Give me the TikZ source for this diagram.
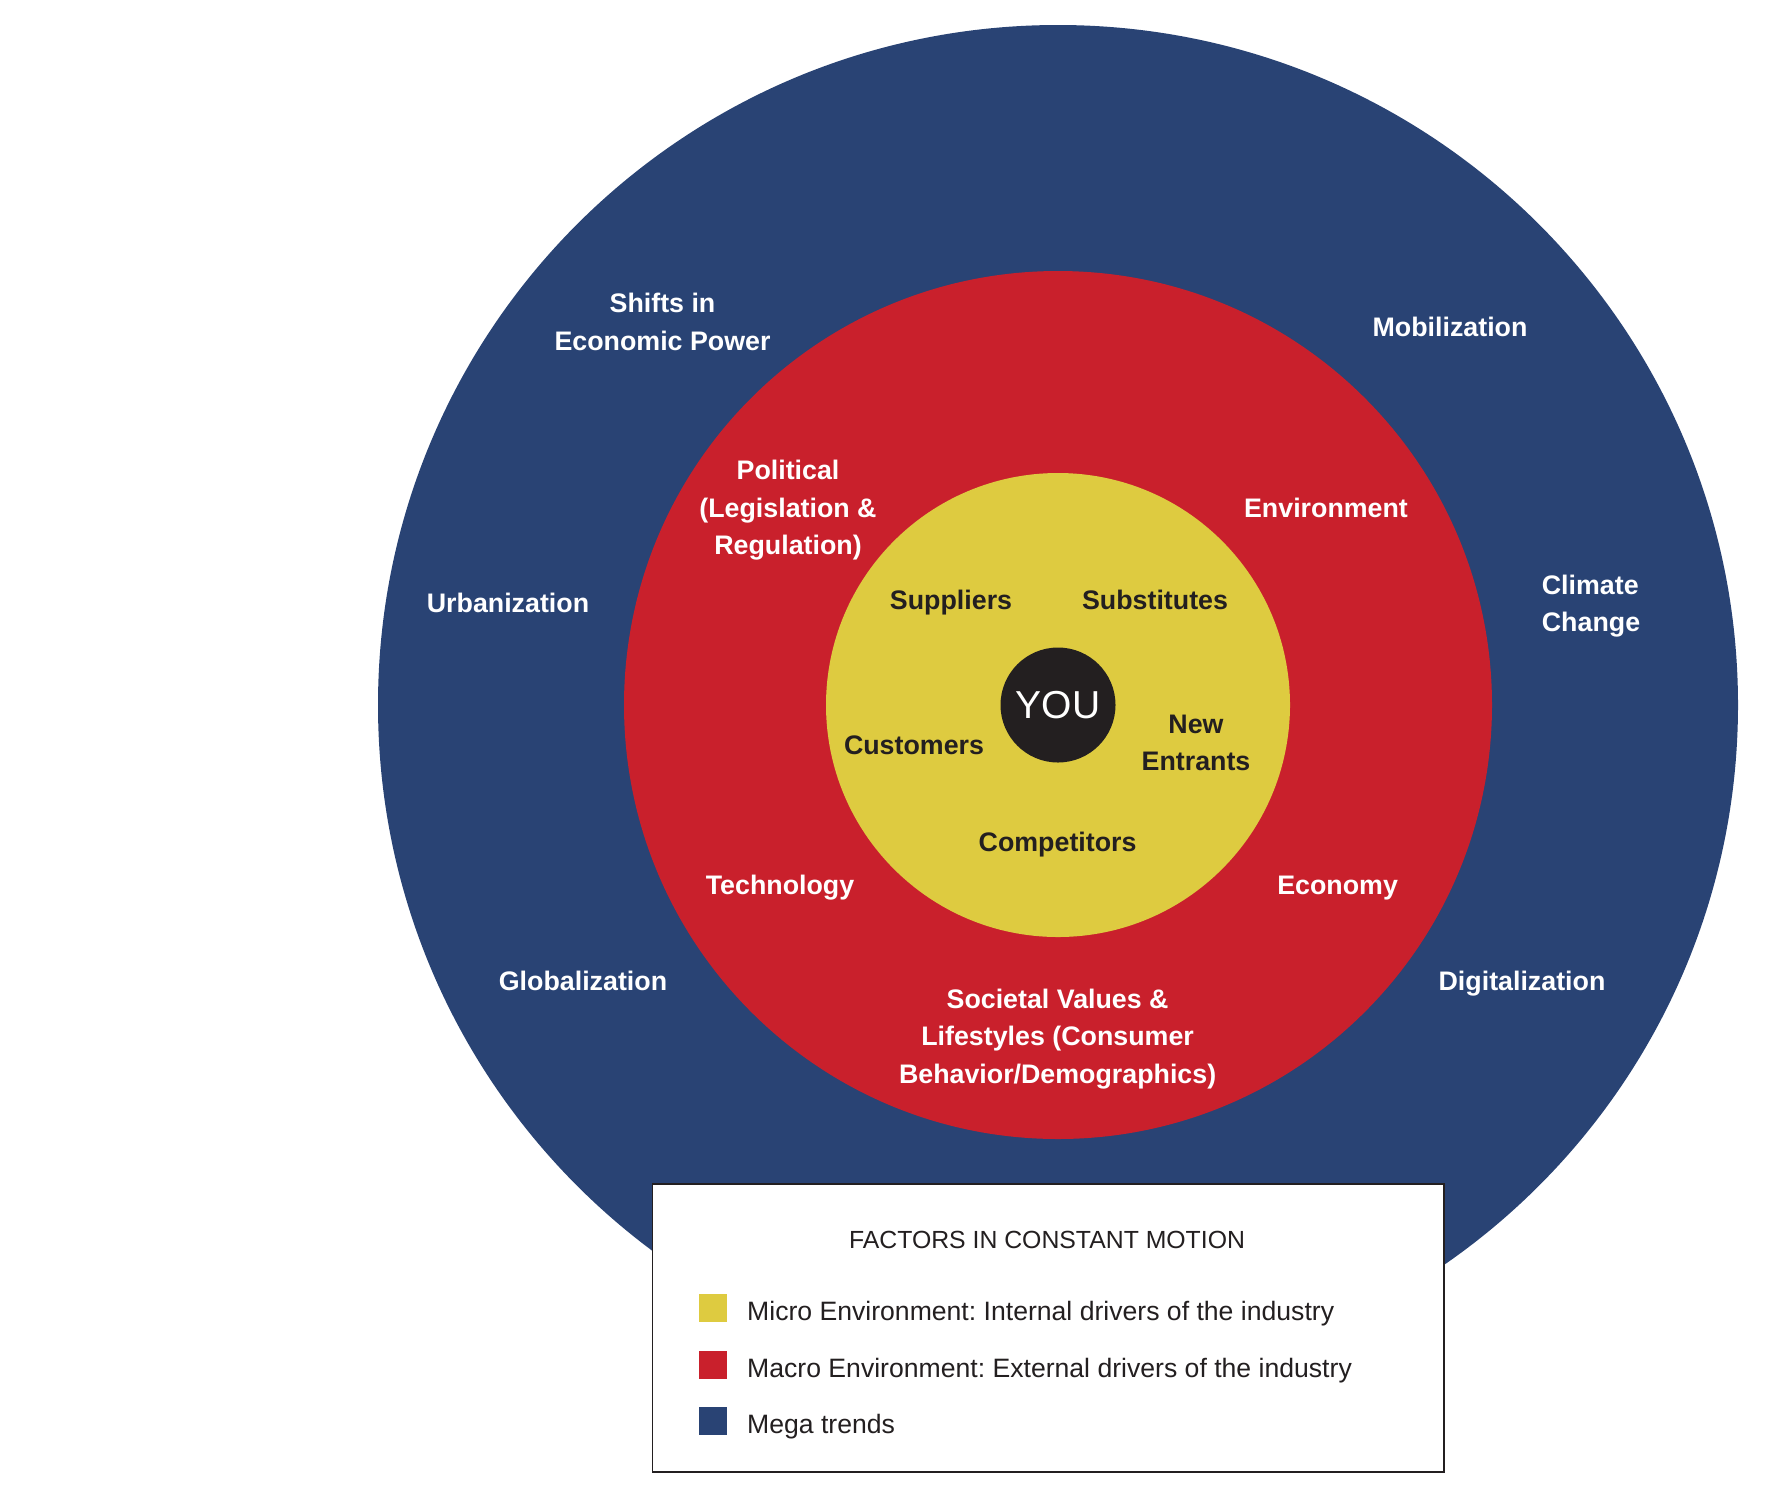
\documentclass[tikz,border=0pt]{standalone}
\usepackage{fontspec}
\setmainfont{Liberation Sans}
\definecolor{megablue}{HTML}{294374}
\definecolor{macrored}{HTML}{C9202C}
\definecolor{microyellow}{HTML}{DECB40}
\definecolor{darkink}{HTML}{231F20}
\frenchspacing
\begin{document}
\begin{tikzpicture}[x=1pt,y=-1pt,
  ring/.style={circle,inner sep=0pt,outer sep=0pt},
  wlabel/.style={text=white,font=\fontsize{26.8}{37.6}\selectfont\bfseries,align=center,inner sep=0pt},
  dlabel/.style={text=darkink,font=\fontsize{26.8}{37.6}\selectfont\bfseries,align=center,inner sep=0pt},
  legtext/.style={text=darkink,font=\fontsize{26.6}{30}\selectfont,anchor=base west,inner sep=0pt},
  legsq/.style={minimum size=28pt,inner sep=0pt,outer sep=0pt,anchor=north west}]
\useasboundingbox (0,0) rectangle (1785,1500);
\node[ring,fill=megablue,minimum size=1360pt] (mega) at (1058,705) {};
\node[ring,fill=macrored,minimum size=868pt] (macro) at (1058,705) {};
\node[ring,fill=microyellow,minimum size=464pt] (micro) at (1058,705) {};
\node[ring,fill=darkink,minimum size=115pt,text=white,font=\fontsize{39}{39}\selectfont] (you) at (1058,705) {YOU};
% mega trends
\node[wlabel] (shifts) at (662.5,322) {Shifts in\\Economic Power};
\node[wlabel,anchor=base] (mobil) at (1450,336.2) {Mobilization};
\node[wlabel,anchor=base] (urban) at (508,612.8) {Urbanization};
\node[wlabel,align=left] (climate) at (1591,606.3) {Climate\\Change};
\node[wlabel,anchor=base] (global) at (583,990.8) {Globalization};
\node[wlabel,anchor=base] (digital) at (1522,990.8) {Digitalization};
% macro
\node[wlabel] (political) at (788,510.3) {Political\\(Legislation \&\\Regulation)};
\node[wlabel,anchor=base] (environ) at (1326,517.2) {Environment};
\node[wlabel,anchor=base] (techno) at (780,894) {Technology};
\node[wlabel,anchor=base] (economy) at (1337.6,894) {Economy};
\node[wlabel] (societal) at (1057.6,1039) {Societal Values \&\\Lifestyles (Consumer\\Behavior/Demographics)};
% micro
\node[dlabel,anchor=base] (suppliers) at (951,609.4) {Suppliers};
\node[dlabel,anchor=base] (substitutes) at (1155,609.4) {Substitutes};
\node[dlabel,anchor=base] (customers) at (914,754) {Customers};
\node[dlabel] (newent) at (1196,743) {New\\Entrants};
\node[dlabel,anchor=base] (competitors) at (1057.6,851.9) {Competitors};
% legend
\node[draw=darkink,line width=1.5pt,fill=white,minimum width=791.5pt,minimum height=288pt,inner sep=0pt,anchor=north west] (legend) at (651.5,1183) {};
\node[text=darkink,font=\fontsize{24.8}{30}\selectfont,inner sep=0pt,anchor=base] (legtitle) at (1047,1248) {FACTORS IN CONSTANT MOTION};
\node[legsq,fill=microyellow] (sq1) at (699,1294) {};
\node[legsq,fill=macrored] (sq2) at (699,1350.5) {};
\node[legsq,fill=megablue] (sq3) at (699,1406.5) {};
\node[legtext] (lt1) at (747,1320.5) {Micro Environment: Internal drivers of the industry};
\node[legtext] (lt2) at (747,1377) {Macro Environment: External drivers of the industry};
\node[legtext] (lt3) at (747,1433) {Mega trends};
\end{tikzpicture}
\end{document}
